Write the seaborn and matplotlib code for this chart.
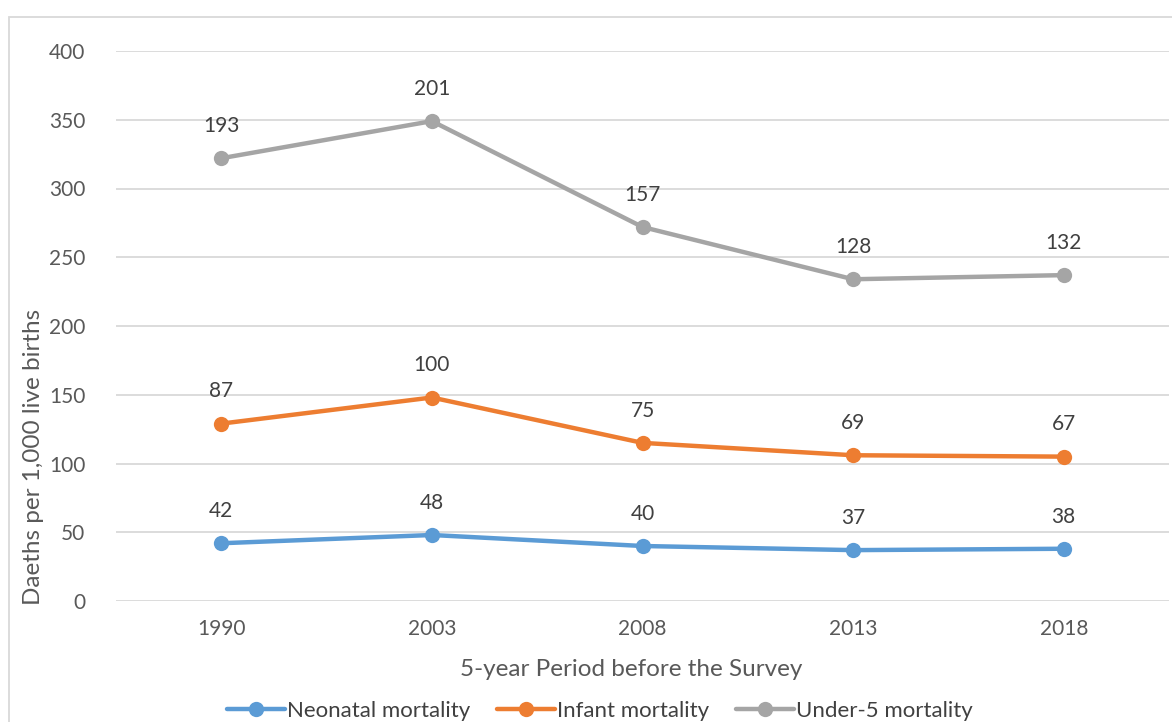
import numpy as np
import pandas as pd
import matplotlib
matplotlib.use("Agg")
import matplotlib.pyplot as plt
from matplotlib.patches import Rectangle
from matplotlib.lines import Line2D
import seaborn as sns

# Survey periods and mortality rates (deaths per 1,000 live births)
years = ["1990", "2003", "2008", "2013", "2018"]
neonatal = [42, 48, 40, 37, 38]
infant = [87, 100, 75, 69, 67]
under5 = [193, 201, 157, 128, 132]

series_names = ["Neonatal mortality", "Infant mortality", "Under-5 mortality"]
series_values = [neonatal, infant, under5]
colors = ["#5B9BD5", "#ED7D31", "#A5A5A5"]

# Stacked line layout: each series sits on top of the previous ones
stacked = np.cumsum(np.array(series_values, dtype=float), axis=0)

rows = []
for name, vals, tops in zip(series_names, series_values, stacked):
    for i, (yr, v, t) in enumerate(zip(years, vals, tops)):
        rows.append({"pos": i, "year": yr, "series": name, "value": v, "top": t})
df = pd.DataFrame(rows)

sns.set_theme(style="white")
plt.rcParams["font.family"] = ["Lato", "DejaVu Sans"]

W, H = 1172, 722
fig = plt.figure(figsize=(W / 100, H / 100), dpi=100)
ax = fig.add_axes([116 / W, 1 - 601 / H, (1169 - 116) / W, (601 - 51) / H])

# Horizontal gridlines
for yv in range(0, 401, 50):
    ax.axhline(yv, color="#D9D9D9", lw=1.3, zorder=0)

sns.lineplot(data=df, x="pos", y="top", hue="series", hue_order=series_names,
             palette=colors, marker="o", markersize=11, markeredgewidth=0,
             linewidth=3.2, ax=ax, legend=False, zorder=3)

# Data labels with the series' own values
for _, r in df.iterrows():
    ax.annotate(f"{int(r['value'])}", (r["pos"], r["top"]), xytext=(0, 16),
                textcoords="offset points", ha="center", va="bottom",
                fontsize=15, color="#404040")

ax.set_xlim(-0.5, len(years) - 0.5)
ax.set_ylim(0, 400)
ax.set_xticks(range(len(years)))
ax.set_xticklabels(years)
ax.set_yticks(range(0, 401, 50))
ax.tick_params(axis="both", length=0, labelsize=15, labelcolor="#595959")
ax.tick_params(axis="x", pad=13)
ax.tick_params(axis="y", pad=22)
for s in ax.spines.values():
    s.set_visible(False)
ax.set_xlabel("")
ax.set_ylabel("")

fig.text(631 / W, 1 - 669 / H, "5-year Period before the Survey", ha="center",
         va="center", fontsize=17.5, color="#595959")
fig.text(34 / W, 1 - 457 / H, "Daeths per 1,000 live births", ha="center",
         va="center", rotation=90, fontsize=17.5, color="#595959")

# Legend
handles = [Line2D([0], [0], color=c, lw=3.2, marker="o", markersize=11,
                  markeredgewidth=0) for c in colors]
fig.legend(handles, series_names, loc="center", bbox_to_anchor=(600 / W, 1 - 711 / H),
           ncol=3, frameon=False, fontsize=16, labelcolor="#404040",
           handlelength=2.6, handletextpad=0.1, columnspacing=1.2)

# Chart area border
fig.add_artist(Rectangle((9 / W, 1 - 800 / H), 1300 / W, (800 - 17) / H,
                         transform=fig.transFigure, fill=False,
                         edgecolor="#D9D9D9", lw=1.3, clip_on=False))

fig.savefig("out.png", dpi=100, facecolor="white")
